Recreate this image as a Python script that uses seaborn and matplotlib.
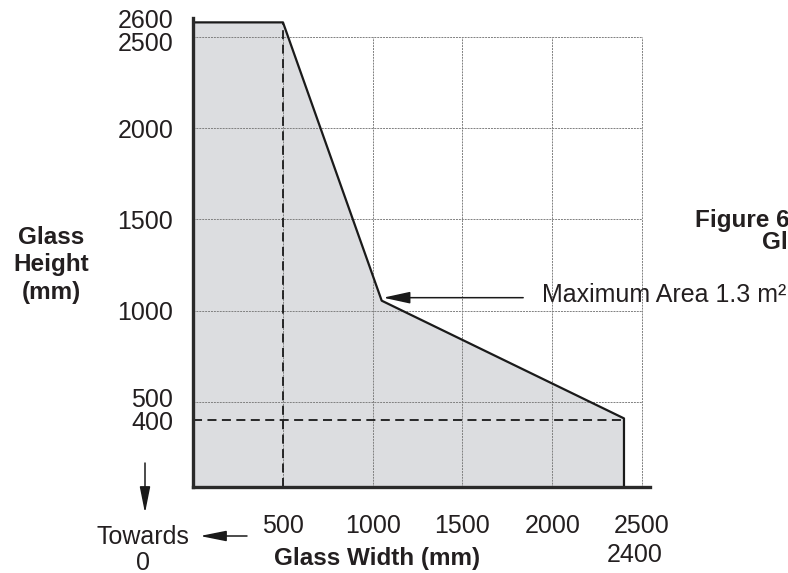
import numpy as np
import pandas as pd
import matplotlib
matplotlib.use("Agg")
import matplotlib.pyplot as plt
import matplotlib.transforms as mtransforms
import seaborn as sns

# ---- data ----
outline_w = [0, 0, 500, 1050, 2400, 2400]
outline_h = [34, 2580, 2580, 1055, 410, 34]
dash_v_x = 500
dash_h_y = 400
grid_x = [500, 1000, 1500, 2000, 2500]
grid_y = [500, 1000, 1500, 2000, 2500]
xtick_vals = [500, 1000, 1500, 2000, 2500]
xtick_labels = ["500", "1000", "1500", "2000", "2500"]
ytick_vals = [2600, 2500, 2000, 1500, 1000, 500, 400]
ytick_labels = ["2600", "2500", "2000", "1500", "1000", "500", "400"]
knee = (1050, 1055)

sns.set_theme(style="white")
plt.rcParams["font.family"] = ["Liberation Sans", "DejaVu Sans"]

W, H = 788, 573
fig = plt.figure(figsize=(W / 100, H / 100), dpi=100)
def fx(x): return x / W
def fy(y): return 1 - y / H

ax = fig.add_axes([fx(193.25), fy(487), (650 - 193.25) / W, (487 - 18) / H])
ax.set_xlim(0, 2545)
ax.set_ylim(34, 2604)

# fill
ax.fill(outline_w, outline_h, color="#dcdde0", lw=0, zorder=1)

# grid
gcol = "#808080"
for gx in grid_x:
    ax.plot([gx, gx], [34, 2500], color=gcol, lw=0.7, ls=(0, (2, 1)), zorder=2)
for gy in grid_y:
    ax.plot([0, 2500], [gy, gy], color=gcol, lw=0.7, ls=(0, (2, 1)), zorder=2)

# dashed lines
ax.plot([dash_v_x, dash_v_x], [34, outline_h[2]], color="#1a1a1a", lw=1.3,
        ls=(0, (5, 3)), zorder=3)
ax.plot([0, outline_w[4]], [dash_h_y, dash_h_y], color="#1a1a1a", lw=1.3,
        ls=(0, (5, 3)), zorder=3)

# outline
df = pd.DataFrame({"w": outline_w[1:], "h": outline_h[1:]})
sns.lineplot(data=df, x="w", y="h", sort=False, estimator=None, ax=ax,
             color="#1a1a1a", lw=1.6, zorder=4)

ax.set_xlabel("")
ax.set_ylabel("")
ax.set_xticks([])
ax.set_yticks([])
for s in ["top", "right"]:
    ax.spines[s].set_visible(False)
for s in ["left", "bottom"]:
    ax.spines[s].set_color("#2a2a2a")
    ax.spines[s].set_linewidth(2.4)
    ax.spines[s].set_zorder(5)
ax.patch.set_alpha(0)

fs = 18
fsb = 17.5
tc = "#231f20"

# y tick labels
yoff = {"2500": -3.5, "500": 3.0}
for v, lab in zip(ytick_vals, ytick_labels):
    ax.annotate(lab, xy=(0, v), xycoords=("axes fraction", "data"),
                xytext=(-14.4, yoff.get(lab, 0)), textcoords="offset points",
                ha="right", va="center_baseline", fontsize=fs, color=tc,
                annotation_clip=False)
# x tick labels
for v, lab in zip(xtick_vals, xtick_labels):
    ax.annotate(lab, xy=(v, 0), xycoords=("data", "axes fraction"),
                xytext=(0, -26), textcoords="offset points",
                ha="center", va="center_baseline", fontsize=fs, color=tc,
                annotation_clip=False)
ax.annotate("2400", xy=(2400, 0), xycoords=("data", "axes fraction"),
            xytext=(8, -47), textcoords="offset points",
            ha="center", va="center_baseline", fontsize=fs, color=tc,
            annotation_clip=False)

# axis titles
fig.text(fx(377), fy(556), "Glass Width (mm)", ha="center", va="center_baseline",
         fontsize=fsb, fontweight="bold", color=tc)
fig.text(fx(51), fy(265), "Glass\nHeight\n(mm)", ha="center", va="center",
         fontsize=fsb, fontweight="bold", color=tc, linespacing=1.25)

# towards 0
fig.text(fx(143), fy(535), "Towards", ha="center", va="center_baseline",
         fontsize=fs, color=tc)
fig.text(fx(143), fy(561), "0", ha="center", va="center_baseline",
         fontsize=fs, color=tc)
aprops = dict(arrowstyle="-|>,head_length=1.6,head_width=0.32", color="#1a1a1a",
              lw=1.1, mutation_scale=10, shrinkA=0, shrinkB=0)
ax.annotate("", xy=(fx(200), fy(536)), xytext=(fx(247), fy(536)),
            xycoords="figure fraction", textcoords="figure fraction",
            arrowprops=aprops, annotation_clip=False)
ax.annotate("", xy=(fx(145), fy(513)), xytext=(fx(145), fy(463)),
            xycoords="figure fraction", textcoords="figure fraction",
            arrowprops=aprops, annotation_clip=False)

# maximum area annotation (horizontal arrow ending just at the knee)
tip_tr = ax.transData + mtransforms.ScaledTranslation(1.5 / 100, 3 / 100,
                                                       fig.dpi_scale_trans)
ax.annotate("", xy=knee, xycoords=tip_tr,
            xytext=(100.8, 0), textcoords="offset points",
            arrowprops=dict(arrowstyle="-|>,head_length=1.65,head_width=0.36",
                            color="#1a1a1a", lw=1.1, mutation_scale=10,
                            shrinkA=0, shrinkB=0),
            annotation_clip=False)
fig.text(fx(542), fy(292), "Maximum Area 1.3 m²", ha="left", va="center_baseline",
         fontsize=fs, color=tc)

# figure caption (cut off at right edge, as in the source)
fig.text(fx(695), fy(218), "Figure 6", ha="left", va="center_baseline",
         fontsize=fsb, fontweight="bold", color=tc)
fig.text(fx(762), fy(240), "Glass", ha="left", va="center_baseline",
         fontsize=fsb, fontweight="bold", color=tc)

fig.savefig("out.png", dpi=100)
